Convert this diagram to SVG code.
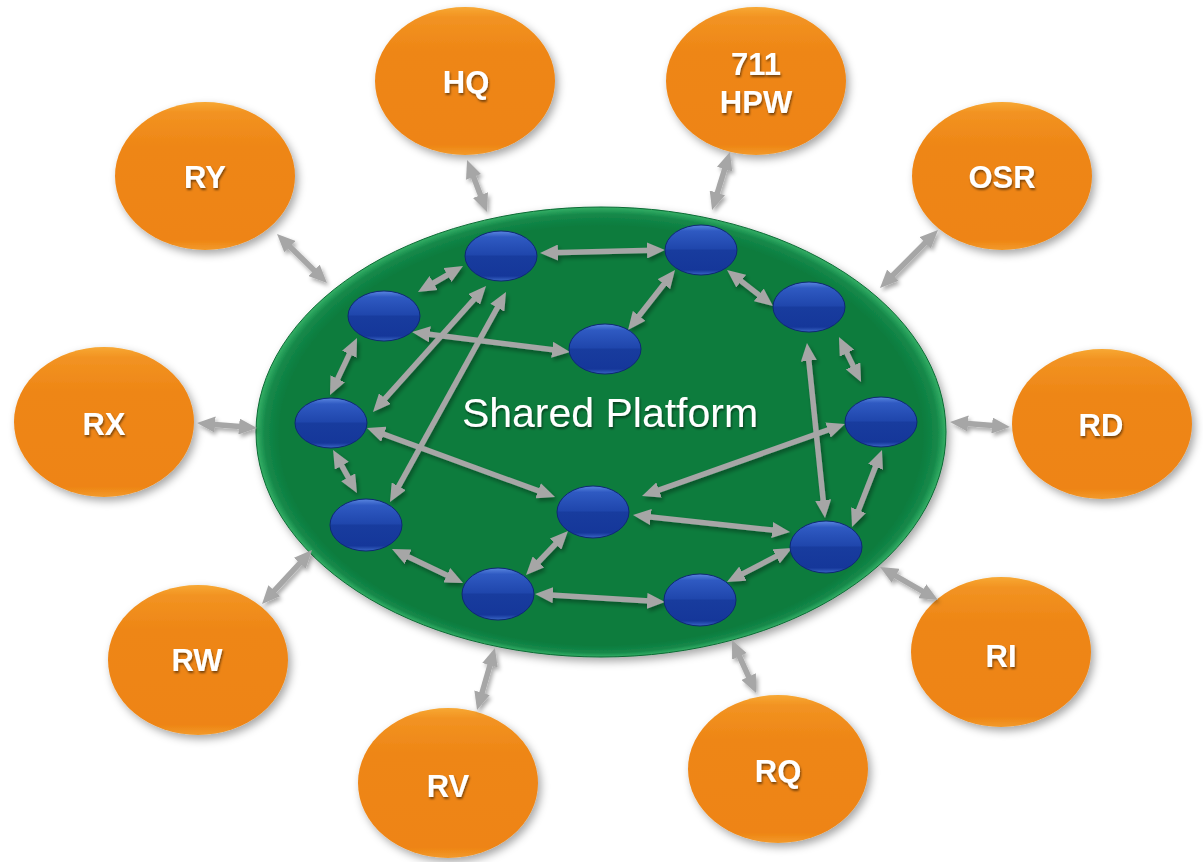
<svg xmlns="http://www.w3.org/2000/svg" width="1203" height="862" viewBox="0 0 1203 862">
  <defs>
    <linearGradient id="orangeFill" x1="0" y1="0" x2="0" y2="1">
      <stop offset="0" stop-color="#f7a833"/>
      <stop offset="0.07" stop-color="#f29322"/>
      <stop offset="0.3" stop-color="#ee8616"/>
      <stop offset="0.93" stop-color="#ee8412"/>
      <stop offset="1" stop-color="#f29a2c"/>
    </linearGradient>
    <radialGradient id="greenFill" cx="0.5" cy="0.5" r="0.5" fx="0.5" fy="0.62">
      <stop offset="0" stop-color="#0a7b3d"/>
      <stop offset="0.93" stop-color="#0a7b3d"/>
      <stop offset="0.975" stop-color="#15894a"/>
      <stop offset="1" stop-color="#35b066"/>
    </radialGradient>
    <linearGradient id="blueFill" x1="0" y1="0" x2="0" y2="1">
      <stop offset="0" stop-color="#5a86e0"/>
      <stop offset="0.12" stop-color="#2f5ac2"/>
      <stop offset="0.48" stop-color="#1f46ac"/>
      <stop offset="0.5" stop-color="#183c9e"/>
      <stop offset="0.9" stop-color="#15379a"/>
      <stop offset="1" stop-color="#3a66c6"/>
    </linearGradient>
    <filter id="softShadow" x="-20%" y="-20%" width="140%" height="150%">
      <feDropShadow dx="3" dy="4" stdDeviation="4" flood-color="#000" flood-opacity="0.35"/>
    </filter>
    <filter id="lineShadow" x="-10%" y="-10%" width="120%" height="120%">
      <feDropShadow dx="2" dy="3" stdDeviation="2" flood-color="#000" flood-opacity="0.35"/>
    </filter>
    <filter id="textShadow" x="-10%" y="-20%" width="120%" height="150%">
      <feDropShadow dx="1" dy="2" stdDeviation="1.2" flood-color="#000" flood-opacity="0.5"/>
    </filter>
    <marker id="head" markerUnits="userSpaceOnUse" viewBox="0 0 18 16" markerWidth="18" markerHeight="16" refX="7" refY="8" orient="auto-start-reverse">
      <path d="M0,0 L18,8 L0,16 z" fill="#a6a6a6"/>
    </marker>
    <style>
      .site { fill: url(#orangeFill); filter: url(#softShadow); }
      .site-label { font-family: "Liberation Sans", Arial, sans-serif; font-weight: bold; font-size: 31px; fill: #ffffff; text-anchor: middle; filter: url(#textShadow); }
      .hub { fill: url(#blueFill); stroke: #0e2874; stroke-width: 1; }
      .link { stroke: #a6a6a6; stroke-width: 5.5; fill: none; marker-start: url(#head); marker-end: url(#head); }
    </style>
  </defs>

  <!-- shared platform -->
  <g id="platform">
    <ellipse cx="601" cy="432" rx="345" ry="225" fill="url(#greenFill)" stroke="#0a6a34" stroke-width="1" filter="url(#softShadow)"/>
    <text x="610" y="427" font-family="'Liberation Sans', Arial, sans-serif" font-size="41" fill="#ffffff" text-anchor="middle" filter="url(#textShadow)">Shared Platform</text>
  </g>

  <!-- external sites -->
  <g id="site-hq"><ellipse class="site" cx="465" cy="81" rx="90" ry="74"/><text class="site-label" x="466" y="93">HQ</text></g>
  <g id="site-711hpw"><ellipse class="site" cx="756" cy="81" rx="90" ry="74"/><text class="site-label" x="756" y="75">711</text><text class="site-label" x="756" y="113">HPW</text></g>
  <g id="site-ry"><ellipse class="site" cx="205" cy="176" rx="90" ry="74"/><text class="site-label" x="205" y="188">RY</text></g>
  <g id="site-osr"><ellipse class="site" cx="1002" cy="176" rx="90" ry="74"/><text class="site-label" x="1002" y="188">OSR</text></g>
  <g id="site-rx"><ellipse class="site" cx="104" cy="422" rx="90" ry="75"/><text class="site-label" x="104" y="435">RX</text></g>
  <g id="site-rd"><ellipse class="site" cx="1102" cy="424" rx="90" ry="75"/><text class="site-label" x="1101" y="436">RD</text></g>
  <g id="site-rw"><ellipse class="site" cx="198" cy="660" rx="90" ry="75"/><text class="site-label" x="197" y="671">RW</text></g>
  <g id="site-ri"><ellipse class="site" cx="1001" cy="652" rx="90" ry="75"/><text class="site-label" x="1001" y="667">RI</text></g>
  <g id="site-rv"><ellipse class="site" cx="448" cy="783" rx="90" ry="75"/><text class="site-label" x="448" y="797">RV</text></g>
  <g id="site-rq"><ellipse class="site" cx="778" cy="769" rx="90" ry="74"/><text class="site-label" x="778" y="782">RQ</text></g>

  <!-- connectors -->
  <g id="connectors" filter="url(#lineShadow)">
    <line class="link" x1="551" y1="252.7" x2="654" y2="250.3"/>
    <line class="link" x1="427.5" y1="286.5" x2="453.5" y2="271.5"/>
    <line class="link" x1="478.7" y1="294.2" x2="380.3" y2="403.8"/>
    <line class="link" x1="500.7" y1="301.6" x2="395.3" y2="492.4"/>
    <line class="link" x1="422.9" y1="333.4" x2="559.1" y2="350.6"/>
    <line class="link" x1="352.3" y1="347.9" x2="334.7" y2="385.1"/>
    <line class="link" x1="338.4" y1="459.6" x2="351.6" y2="483.4"/>
    <line class="link" x1="377.3" y1="431.8" x2="544.7" y2="493.2"/>
    <line class="link" x1="668.2" y1="278.7" x2="634.8" y2="321.3"/>
    <line class="link" x1="735.7" y1="276.8" x2="764.3" y2="299.2"/>
    <line class="link" x1="843.8" y1="346.9" x2="856.2" y2="372.1"/>
    <line class="link" x1="808.1" y1="353.9" x2="823.9" y2="507.1"/>
    <line class="link" x1="834.6" y1="427.7" x2="652.4" y2="492.3"/>
    <line class="link" x1="878" y1="460.3" x2="856" y2="516.7"/>
    <line class="link" x1="643.9" y1="516.2" x2="779.1" y2="530.8"/>
    <line class="link" x1="560.4" y1="539" x2="533.6" y2="567"/>
    <line class="link" x1="401.9" y1="553.8" x2="453.1" y2="578.2"/>
    <line class="link" x1="546" y1="594.7" x2="654" y2="601.3"/>
    <line class="link" x1="736.7" y1="576.9" x2="782.3" y2="553.1"/>
    <line class="link" x1="471" y1="170.3" x2="483" y2="201.7"/>
    <line class="link" x1="726.7" y1="162.5" x2="715.3" y2="199.5"/>
    <line class="link" x1="284.9" y1="241.7" x2="319.1" y2="275.3"/>
    <line class="link" x1="930.2" y1="237.8" x2="887.8" y2="280.2"/>
    <line class="link" x1="208" y1="423.9" x2="246" y2="427.1"/>
    <line class="link" x1="961" y1="422.9" x2="999" y2="426.1"/>
    <line class="link" x1="269.5" y1="595.9" x2="304.5" y2="558.1"/>
    <line class="link" x1="889.6" y1="572.4" x2="928.4" y2="594.6"/>
    <line class="link" x1="480.1" y1="699.4" x2="491.9" y2="658.6"/>
    <line class="link" x1="736.5" y1="650" x2="751.5" y2="683"/>
  </g>

  <!-- platform hubs -->
  <g id="hub-1"><ellipse class="hub" cx="501" cy="256" rx="36" ry="25"/></g>
  <g id="hub-2"><ellipse class="hub" cx="701" cy="250" rx="36" ry="25"/></g>
  <g id="hub-3"><ellipse class="hub" cx="384" cy="316" rx="36" ry="25"/></g>
  <g id="hub-4"><ellipse class="hub" cx="605" cy="349" rx="36" ry="25"/></g>
  <g id="hub-5"><ellipse class="hub" cx="809" cy="307" rx="36" ry="25"/></g>
  <g id="hub-6"><ellipse class="hub" cx="331" cy="423" rx="36" ry="25"/></g>
  <g id="hub-7"><ellipse class="hub" cx="881" cy="422" rx="36" ry="25"/></g>
  <g id="hub-8"><ellipse class="hub" cx="366" cy="525" rx="36" ry="26"/></g>
  <g id="hub-9"><ellipse class="hub" cx="593" cy="512" rx="36" ry="26"/></g>
  <g id="hub-10"><ellipse class="hub" cx="826" cy="547" rx="36" ry="26"/></g>
  <g id="hub-11"><ellipse class="hub" cx="498" cy="594" rx="36" ry="26"/></g>
  <g id="hub-12"><ellipse class="hub" cx="700" cy="600" rx="36" ry="26"/></g>
</svg>
